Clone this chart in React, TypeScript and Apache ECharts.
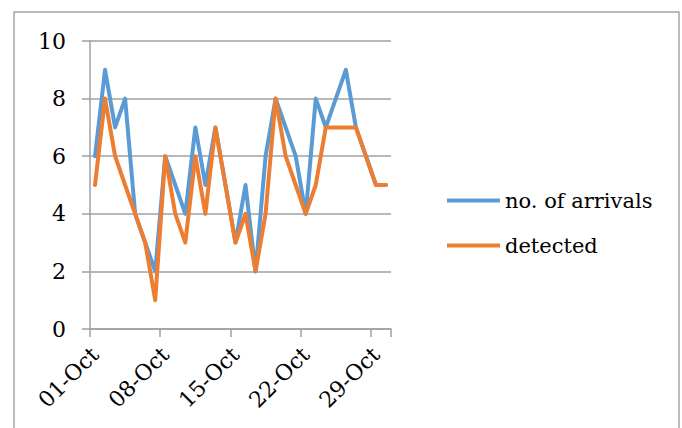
import React, { useEffect, useRef } from "react";
import * as echarts from "echarts";

const categories = [
  "01-Oct", "02-Oct", "03-Oct", "04-Oct", "05-Oct", "06-Oct", "07-Oct", "08-Oct", "09-Oct", "10-Oct",
  "11-Oct", "12-Oct", "13-Oct", "14-Oct", "15-Oct", "16-Oct", "17-Oct", "18-Oct", "19-Oct", "20-Oct",
  "21-Oct", "22-Oct", "23-Oct", "24-Oct", "25-Oct", "26-Oct", "27-Oct", "28-Oct", "29-Oct", "30-Oct",
];
const arrivals = [6, 9, 7, 8, 4, 3, 2, 6, 5, 4, 7, 5, 7, 5, 3, 5, 2, 6, 8, 7, 6, 4, 8, 7, 8, 9, 7, 6, 5, 5];
const detected = [5, 8, 6, 5, 4, 3, 1, 6, 4, 3, 6, 4, 7, 5, 3, 4, 2, 4, 8, 6, 5, 4, 5, 7, 7, 7, 7, 6, 5, 5];
const seriesNames = ["no. of arrivals", "detected"];

const FONT = "DejaVu Serif";

export default function App() {
  const ref = useRef<HTMLDivElement>(null);
  useEffect(() => {
    if (!ref.current) return;
    const chart = echarts.init(ref.current, null, { renderer: "svg" });
    chart.setOption({
      animation: false,
      backgroundColor: "#ffffff",
      textStyle: { fontFamily: FONT, color: "#000" },
      grid: { left: 90, right: 291, top: 41, bottom: 99, containLabel: false },
      graphic: [
        {
          type: "rect",
          shape: { x: 14, y: 12, width: 665, height: 440 },
          style: { fill: "none", stroke: "#a6a6a6", lineWidth: 1.5 },
          silent: true,
          z: -1,
        },
      ],
      legend: {
        orient: "vertical",
        left: 447,
        top: 188,
        padding: 0,
        itemGap: 20,
        itemWidth: 53,
        itemHeight: 4,
        itemTextGap: 5,
        icon: "rect",
        textStyle: { fontFamily: FONT, fontSize: 21, lineHeight: 25, color: "#000" },
        data: seriesNames,
      },
      xAxis: {
        type: "category",
        data: categories,
        boundaryGap: true,
        axisLine: { show: true, lineStyle: { color: "#a0a0a0", width: 1.5 } },
        axisTick: { show: true, interval: 6, length: 8, lineStyle: { color: "#a0a0a0", width: 1.5 } },
        axisLabel: {
          interval: 6,
          rotate: 45,
          margin: 22,
          fontFamily: FONT,
          fontSize: 22,
          color: "#000",
        },
        splitLine: { show: false },
      },
      yAxis: {
        type: "value",
        min: 0,
        max: 10,
        interval: 2,
        axisLine: { show: true, lineStyle: { color: "#a0a0a0", width: 1.5 } },
        axisTick: { show: true, length: 8, lineStyle: { color: "#a0a0a0", width: 1.5 } },
        axisLabel: { margin: 24, fontFamily: FONT, fontSize: 22, color: "#000" },
        splitLine: { show: true, lineStyle: { color: "#a0a0a0", width: 1.5 } },
      },
      series: [
        {
          name: seriesNames[0],
          type: "line",
          data: arrivals,
          showSymbol: false,
          symbol: "none",
          lineStyle: { color: "#5B9BD5", width: 4, cap: "round", join: "round" },
          itemStyle: { color: "#5B9BD5" },
          z: 2,
        },
        {
          name: seriesNames[1],
          type: "line",
          data: detected,
          showSymbol: false,
          symbol: "none",
          lineStyle: { color: "#ED7D31", width: 4, cap: "round", join: "round" },
          itemStyle: { color: "#ED7D31" },
          z: 3,
        },
      ],
    });
    return () => chart.dispose();
  }, []);
  return (
    <div
      ref={ref}
      style={{ position: "fixed", left: 0, top: 0, width: 682, height: 428 }}
    />
  );
}
